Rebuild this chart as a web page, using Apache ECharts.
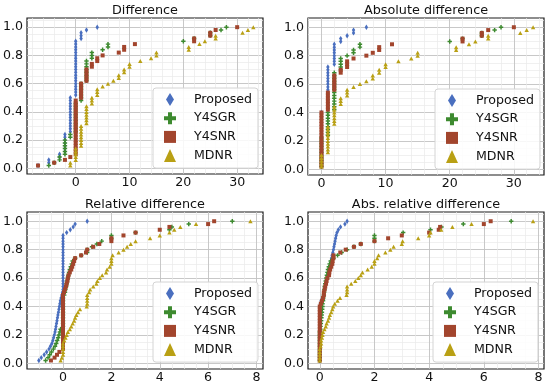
<!DOCTYPE html>
<html>
<head>
<meta charset="utf-8">
<script src="https://cdn.jsdelivr.net/npm/echarts@6/dist/echarts.min.js"></script>
<style>html,body{margin:0;padding:0;background:#fff}#c{width:550px;height:387px}</style>
</head>
<body>
<div id="c"></div>
<script>
// ---- sample values (each series: 50 sorted samples, plotted as ECDF) ----
const seriesNames = ['Proposed', 'Y4SGR', 'Y4SNR', 'MDNR'];

// Difference
const diffProposed = [-7,-5,-5,-3,-3,-2,-2,-2,-2,-2,-2,-2,-1,-1,-1,-1,-1,-1,-1,-1,-1,-1,-1,-1,-1,0,0,0,0,0,0,0,0,0,0,0,0,0,0,0,0,0,0,0,0,1,1,1,2,4];
const diffY4SGR = [-5,-4,-3,-3,-2,-2,-2,-2,-2,-2,-1,-1,0,0,0,0,0,0,0,0,0,0,0,1,1,1,1,1,1,1,2,2,2,2,2,2,2,2,3,3,3,5,6,6,20,22,25,25,27,28];
const diffY4SNR = [-7,-4,-2,-1,0,0,0,0,0,0,0,0,0,0,0,0,0,0,0,0,0,0,0,0,1,1,1,1,1,1,2,2,2,2,2,3,3,4,4,5,8,9,9,11,22,22,25,25,26,30];
const diffMDNR = [-1,-1,0,0,0,0,0,1,1,1,1,1,1,1,1,2,2,2,2,2,2,2,3,3,3,4,4,4,5,6,7,8,8,9,9,10,10,12,14,15,15,21,21,23,24,26,26,31,32,33];

// Absolute difference
const absProposed = [0,0,0,0,0,0,0,0,0,0,0,0,0,0,0,0,0,0,0,0,1,1,1,1,1,1,1,1,1,1,1,1,1,1,1,1,2,2,2,2,2,2,2,2,3,3,4,5,5,7];
const absY4SGR = [0,0,0,0,0,0,0,0,0,0,0,1,1,1,1,1,1,1,1,1,2,2,2,2,2,2,2,2,2,2,2,2,2,2,3,3,3,3,3,4,5,5,6,6,20,22,25,25,27,28];
const absY4SNR = [0,0,0,0,0,0,0,0,0,0,0,0,0,0,0,0,0,0,0,0,1,1,1,1,1,1,1,2,2,2,2,2,2,3,3,4,4,4,5,7,8,9,9,11,22,22,25,25,26,30];
const absMDNR = [0,0,0,0,0,1,1,1,1,1,1,1,1,1,1,2,2,2,2,2,2,2,3,3,3,4,4,4,5,6,7,8,8,9,9,10,10,12,14,15,15,21,21,23,24,26,26,31,32,33];

// Relative difference
const relProposed = [-1.0,-0.9,-0.78,-0.68,-0.58,-0.52,-0.46,-0.42,-0.39,-0.36,-0.33,-0.31,-0.29,-0.27,-0.25,-0.23,-0.21,-0.19,-0.17,-0.15,-0.13,-0.11,-0.08,-0.05,-0.02,0,0,0,0,0,0,0,0,0,0,0,0,0,0,0,0,0,0,0,0,0.15,0.3,0.42,0.5,1.0];
const relY4SGR = [-0.72,-0.62,-0.55,-0.48,-0.4,-0.33,-0.28,-0.24,-0.2,-0.17,-0.13,-0.1,0,0,0,0,0,0,0,0,0,0,0,0.05,0.08,0.1,0.13,0.15,0.17,0.2,0.22,0.25,0.28,0.32,0.36,0.4,0.5,0.75,1.0,1.0,1.2,1.4,1.6,2.0,2.0,3.0,4.4,4.5,5.2,7.0];
const relY4SNR = [-0.5,-0.35,-0.25,-0.15,0,0,0,0,0,0,0,0,0,0,0,0,0,0,0,0,0,0,0,0,0.04,0.08,0.12,0.15,0.18,0.2,0.23,0.28,0.34,0.38,0.42,0.46,0.5,0.75,0.95,1.0,1.25,1.5,2.0,2.0,2.5,3.0,4.0,4.4,6.0,6.25];
const relMDNR = [-0.1,-0.05,0,0,0,0,0,0.05,0.1,0.15,0.2,0.28,0.34,0.4,0.46,0.5,0.55,0.62,0.7,0.98,1.0,1.0,1.0,1.0,1.08,1.12,1.25,1.38,1.42,1.52,1.62,1.78,1.82,1.93,2.0,2.0,2.0,2.05,2.3,2.5,2.65,2.8,3.0,3.6,4.0,4.4,4.6,4.85,5.5,7.75];

// Abs. relative difference
const absRelProposed = [0,0,0,0,0,0,0,0,0,0,0,0,0,0,0,0,0,0,0,0,0.02,0.05,0.1,0.13,0.15,0.17,0.2,0.23,0.25,0.28,0.3,0.32,0.34,0.36,0.39,0.41,0.43,0.45,0.48,0.5,0.52,0.54,0.56,0.58,0.6,0.63,0.68,0.76,0.92,1.0];
const absRelY4SGR = [0,0,0,0,0,0,0,0,0,0,0,0.02,0.03,0.04,0.05,0.06,0.07,0.08,0.09,0.1,0.1,0.12,0.13,0.15,0.16,0.17,0.18,0.2,0.22,0.24,0.26,0.28,0.3,0.33,0.36,0.4,0.5,0.65,0.8,1.0,1.25,1.5,2.0,2.0,2.0,3.05,4.05,4.45,5.25,7.0];
const absRelY4SNR = [0,0,0,0,0,0,0,0,0,0,0,0,0,0,0,0,0,0,0,0,0.04,0.08,0.12,0.15,0.15,0.18,0.2,0.23,0.25,0.28,0.34,0.35,0.38,0.42,0.46,0.47,0.5,0.5,0.75,0.95,1.25,1.5,2.0,2.5,3.0,4.0,4.35,4.4,6.0,6.25];
const absRelMDNR = [0,0,0,0,0,0.03,0.05,0.05,0.08,0.1,0.12,0.17,0.22,0.25,0.3,0.34,0.37,0.42,0.46,0.49,0.55,0.65,0.74,0.98,1.0,1.0,1.0,1.15,1.3,1.41,1.5,1.56,1.75,1.9,2.0,2.0,2.1,2.15,2.4,2.58,2.7,3.0,3.03,3.6,4.0,4.05,4.44,4.85,5.55,7.8];

// tick labels
const yTicks = [0, 0.2, 0.4, 0.6, 0.8, 1.0];
const xTicksDiff = [0, 10, 20, 30];
const xTicksRel = [0, 2, 4, 6, 8];

// ---- styling ----
const FONT = 'DejaVu Sans';
const colors = { Proposed: '#4a6fbf', Y4SGR: '#3d8a2f', Y4SNR: '#a2452d', MDNR: '#b9a014' };
const PLUS = 'path://M4,0H8V4H12V8H8V12H4V8H0V4H4Z';
const THIN_DIAMOND = 'path://M4,0L8,6.5L4,13L0,6.5Z';
const markSymbol = { Proposed: THIN_DIAMOND, Y4SGR: PLUS, Y4SNR: 'rect', MDNR: 'triangle' };
const markSize = { Proposed: [3.4, 5.4], Y4SGR: [4.4, 4.4], Y4SNR: [4, 4], MDNR: [4.4, 4] };
const legendIcon = { Proposed: THIN_DIAMOND, Y4SGR: PLUS, Y4SNR: 'path://M0,0H11V11H0Z', MDNR: 'triangle' };

const panels = [
  { title: 'Difference', grid: { left: 27, top: 18, width: 236, height: 156 }, xr: [-9.05, 34.8], xSplit: 4, xMinor: 5, xTicks: xTicksDiff,
    data: [diffProposed, diffY4SGR, diffY4SNR, diffMDNR], legend: { left: 153, top: 88 }, titleTop: 3.5 },
  { title: 'Absolute difference', grid: { left: 308, top: 18, width: 236, height: 157 }, xr: [-2.1, 34.7], xSplit: 4, xMinor: 5, xTicks: xTicksDiff,
    data: [absProposed, absY4SGR, absY4SNR, absMDNR], legend: { left: 435, top: 89 }, titleTop: 3.5 },
  { title: 'Relative difference', grid: { left: 27, top: 212, width: 236, height: 157 }, xr: [-1.49, 8.27], xSplit: 5, xMinor: 4, xTicks: xTicksRel,
    data: [relProposed, relY4SGR, relY4SNR, relMDNR], legend: { left: 153, top: 282 }, titleTop: 198 },
  { title: 'Abs. relative difference', grid: { left: 308, top: 212, width: 236, height: 157 }, xr: [-0.43, 8.2], xSplit: 5, xMinor: 4, xTicks: xTicksRel,
    data: [absRelProposed, absRelY4SGR, absRelY4SNR, absRelMDNR], legend: { left: 433, top: 282 }, titleTop: 198 }
];

function ecdf(sorted) {
  return sorted.map((v, i) => [v, (i + 1) / sorted.length]);
}

const splitLineStyle = { color: '#c2c2c2', width: 0.9 };
const minorLineStyle = { color: '#eaeaea', width: 0.7 };

const option = {
  animation: false,
  backgroundColor: '#fff',
  textStyle: { fontFamily: FONT },
  title: panels.map(p => ({
    text: p.title, left: p.grid.left + p.grid.width / 2, top: p.titleTop, textAlign: 'center', padding: 0,
    textStyle: { fontFamily: FONT, fontSize: 12.8, fontWeight: 'normal', color: '#111', lineHeight: 14 }
  })),
  grid: panels.map(p => Object.assign({ show: true, borderColor: '#1c1c1c', borderWidth: 1.2, backgroundColor: '#fff', containLabel: false, outerBoundsMode: 'none' }, p.grid)),
  xAxis: panels.map((p, k) => ({
    gridIndex: k, type: 'value', min: p.xr[0], max: p.xr[1], splitNumber: p.xSplit,
    axisLine: { show: false }, axisTick: { show: false, customValues: p.xTicks },
    axisLabel: { customValues: p.xTicks, fontSize: 12.6, color: '#111', margin: 2, fontFamily: FONT },
    splitLine: { show: true, lineStyle: splitLineStyle },
    minorTick: { show: false, splitNumber: p.xMinor },
    minorSplitLine: { show: true, lineStyle: minorLineStyle }
  })),
  yAxis: panels.map((p, k) => ({
    gridIndex: k, type: 'value', min: -0.04, max: 1.065, splitNumber: 5,
    axisLine: { show: false }, axisTick: { show: false, customValues: yTicks },
    axisLabel: { customValues: yTicks, fontSize: 12.6, color: '#111', margin: 4, fontFamily: FONT, formatter: v => v.toFixed(1) },
    splitLine: { show: true, lineStyle: splitLineStyle },
    minorTick: { show: false, splitNumber: 4 },
    minorSplitLine: { show: true, lineStyle: minorLineStyle }
  })),
  legend: panels.map(p => ({
    data: seriesNames.map(n => ({ name: n, icon: legendIcon[n] })),
    orient: 'vertical', left: p.legend.left, top: p.legend.top,
    itemWidth: 12, itemHeight: 13, itemGap: 5.7, symbolKeepAspect: true,
    padding: [5, 6, 6, 11],
    borderColor: '#d4d4d4', borderWidth: 1, borderRadius: 3,
    backgroundColor: 'rgba(255,255,255,0.85)',
    selectedMode: false,
    textStyle: { fontFamily: FONT, fontSize: 12.6, color: '#111', lineHeight: 13, padding: [0, 0, 0, 13] }
  })),
  series: []
};

panels.forEach((p, k) => {
  seriesNames.forEach((n, j) => {
    option.series.push({
      type: 'scatter', name: n, xAxisIndex: k, yAxisIndex: k,
      data: ecdf(p.data[j]),
      symbol: markSymbol[n], symbolSize: markSize[n],
      itemStyle: { color: colors[n], opacity: 1 },
      silent: true, z: 2 + j
    });
  });
});

const chart = echarts.init(document.getElementById('c'), null, { renderer: 'canvas' });
chart.setOption(option);
</script>
</body>
</html>
